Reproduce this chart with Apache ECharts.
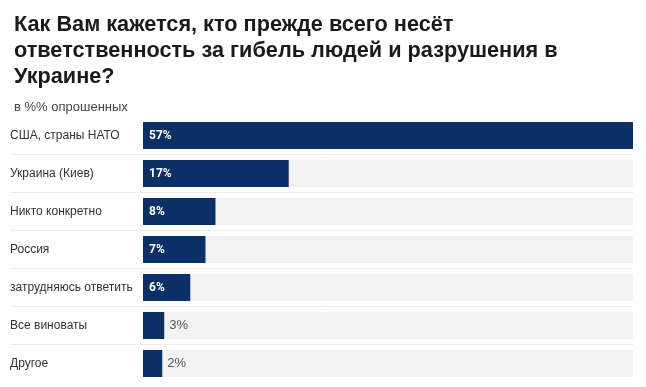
<!DOCTYPE html>
<html><head><meta charset="utf-8">
<script src="https://cdn.jsdelivr.net/npm/echarts@6/dist/echarts.min.js"></script>
<style>html,body{margin:0;padding:0;background:#fff}#c{width:646px;height:387px}</style>
</head><body><div id="c"></div>
<script>
var titleText = "Как Вам кажется, кто прежде всего несёт\nответственность за гибель людей и разрушения в\nУкраине?";
var subtitleText = "в %% опрошенных";
var categories = ["США, страны НАТО", "Украина (Киев)", "Никто конкретно", "Россия", "затрудняюсь ответить", "Все виноваты", "Другое"];
// displayed percentages
var labels = [57, 17, 8, 7, 6, 3, 2];
// bar lengths as measured in the picture (percent scale)
var barValues = [57, 16.95, 8.43, 7.27, 5.5, 2.47, 2.24];

var chart = echarts.init(document.getElementById('c'), null, {renderer: 'canvas'});
var data = barValues.map(function (v, i) {
  var inside = labels[i] >= 5;
  return {
    value: v,
    label: inside ? {
      show: true, position: 'insideLeft', distance: 6,
      formatter: labels[i] + '%',
      color: '#ffffff', fontWeight: 'bold', fontSize: 12, fontFamily: 'Roboto'
    } : {
      show: true, position: 'right', distance: 5,
      formatter: labels[i] + '%',
      color: '#555555', fontWeight: 'normal', fontSize: 13, fontFamily: 'Liberation Sans'
    }
  };
});

chart.setOption({
  animation: false,
  title: [{
    text: titleText, left: 9, top: 7,
    textStyle: {fontFamily: 'Liberation Sans', fontWeight: 'bold', fontSize: 21.7, color: '#1a1a1a', lineHeight: 26}
  }, {
    text: subtitleText, left: 9, top: 96,
    textStyle: {fontFamily: 'Liberation Sans', fontWeight: 'normal', fontSize: 13, color: '#444444'}
  }],
  grid: [
    {left: 143, right: 13, top: 116.5, bottom: 4.5},
    {left: 10, right: 13, top: 116.5, bottom: 4.5}
  ],
  xAxis: [
    {type: 'value', gridIndex: 0, min: 0, max: 57, show: false},
    {type: 'value', gridIndex: 1, min: 0, max: 1, show: false}
  ],
  yAxis: [{
    type: 'category', gridIndex: 0, data: categories, inverse: true,
    axisLine: {show: false}, axisTick: {show: false}, splitLine: {show: false},
    axisLabel: {align: 'left', margin: 133, color: '#333333', fontSize: 12, fontFamily: 'Liberation Sans'}
  }, {
    type: 'category', gridIndex: 1, data: categories, inverse: true,
    axisLine: {show: false}, axisTick: {show: false}, axisLabel: {show: false},
    splitLine: {show: true, showMinLine: false, showMaxLine: false, lineStyle: {color: '#ebebeb', width: 1}}
  }],
  series: [{
    type: 'bar', xAxisIndex: 0, yAxisIndex: 0, data: data, barWidth: 27,
    itemStyle: {color: '#0b3068'},
    showBackground: true, backgroundStyle: {color: '#f2f2f2'}
  }]
});
</script></body></html>
